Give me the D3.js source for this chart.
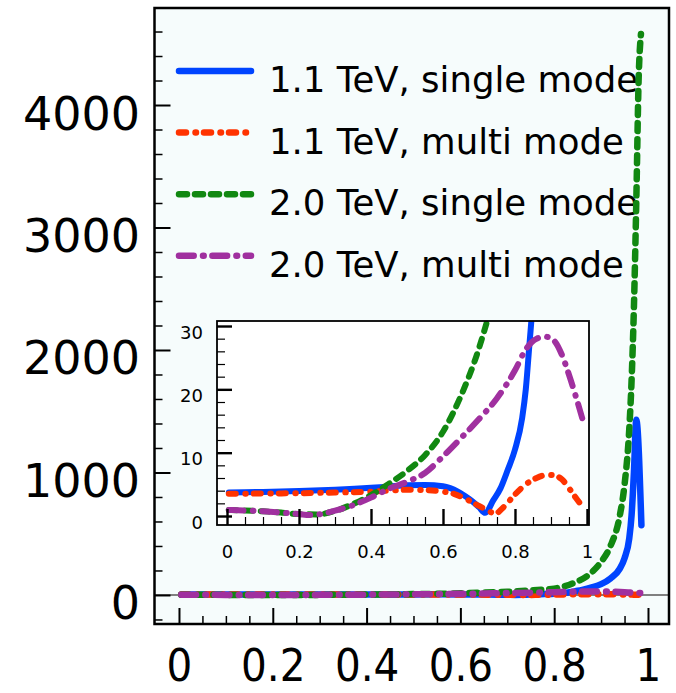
<!DOCTYPE html>
<html lang="en">
<head>
    <meta charset="utf-8">
    <script src="https://d3js.org/d3.v7.min.js"></script>
    <style>
        body { margin: 0; background: #ffffff; }
        svg { display: block; font-family: "DejaVu Sans", sans-serif; }
    </style>
</head>
<body>
    <svg id="chart" width="676" height="693"></svg>

    <script type="text/javascript" charset="utf-8">
        // values (x = position, y = curve value)
        const blueX = [0.005, 0.1, 0.2, 0.3, 0.4, 0.45, 0.5, 0.55, 0.6, 0.62, 0.64, 0.66, 0.68, 0.7, 0.717, 0.74, 0.76, 0.78, 0.8, 0.82, 0.83, 0.84, 0.85, 0.86, 0.88, 0.9, 0.92, 0.94, 0.95, 0.96, 0.965, 0.97, 0.975, 0.986];
        const blueY = [3.7, 3.8, 3.95, 4.15, 4.45, 4.65, 4.85, 4.9, 4.7, 4.4, 3.9, 3.2, 2.4, 1.4, 0.5, 2.5, 4.4, 7.3, 10.5, 15.5, 20, 27, 34, 42, 62, 88, 135, 215, 300, 460, 650, 1000, 1430, 570];

        const redX = [0.005, 0.1, 0.2, 0.3, 0.4, 0.45, 0.5, 0.55, 0.6, 0.63, 0.66, 0.69, 0.72, 0.745, 0.77, 0.8, 0.83, 0.86, 0.89, 0.91, 0.93, 0.95, 0.97, 0.988];
        const redY = [3.5, 3.55, 3.6, 3.7, 3.85, 4.0, 4.15, 4.1, 3.85, 3.5, 2.8, 1.9, 1.0, 0.4, 1.5, 3.4, 5.0, 6.0, 6.5, 6.4, 5.8, 4.4, 2.8, 1.5];

        const greenX = [0.005, 0.1, 0.15, 0.2, 0.25, 0.3, 0.35, 0.4, 0.45, 0.5, 0.55, 0.6, 0.65, 0.7, 0.75, 0.8, 0.84, 0.88, 0.9, 0.92, 0.94, 0.95, 0.96, 0.965, 0.97, 0.975, 0.98, 0.985];
        const greenY = [0.95, 0.75, 0.55, 0.3, 0.25, 0.8, 1.9, 3.3, 5.1, 7.1, 9.6, 13.3, 19, 26.5, 37, 52, 95, 185, 270, 400, 650, 900, 1350, 1750, 2350, 3200, 4200, 4580];

        const purpleX = [0.005, 0.1, 0.15, 0.2, 0.23, 0.26, 0.3, 0.35, 0.4, 0.45, 0.5, 0.55, 0.6, 0.65, 0.7, 0.75, 0.8, 0.83, 0.86, 0.885, 0.91, 0.93, 0.95, 0.97, 0.988];
        const purpleY = [0.95, 0.75, 0.55, 0.3, 0.15, 0.3, 0.85, 1.7, 2.9, 4.3, 5.4, 6.8, 9.4, 12.3, 15.3, 18.6, 23, 26.3, 28, 28.3, 27.6, 25.5, 22.3, 18.7, 15.2];

        const legendLabels = ["1.1 TeV, single mode", "1.1 TeV, multi mode", "2.0 TeV, single mode", "2.0 TeV, multi mode"];
        const mainXTicks = [0, 0.2, 0.4, 0.6, 0.8, 1];
        const mainYTicks = [0, 1000, 2000, 3000, 4000];
        const insetXTicks = [0, 0.2, 0.4, 0.6, 0.8, 1];
        const insetYTicks = [0, 10, 20, 30];

        const series = [
            { name: legendLabels[0], xs: blueX, ys: blueY, color: "#0044ff", dash: null },
            { name: legendLabels[1], xs: redX, ys: redY, color: "#ff3300", dash: "7,9.5,0.5,8" },
            { name: legendLabels[2], xs: greenX, ys: greenY, color: "#118811", dash: "8,8" },
            { name: legendLabels[3], xs: purpleX, ys: purpleY, color: "#a0309f", dash: "14.7,9.3,0.7,8.7" }
        ];
        series.forEach(s => s.points = s.xs.map((x, i) => ({ x: x, y: s.ys[i] })));

        const svg = d3.select("#chart");

        // main plot frame
        const frame = { left: 154.5, right: 669, top: 8, bottom: 624 };
        const x = d3.scaleLinear().domain([-0.0522, 1.0448]).range([frame.left, frame.right]);
        const y = d3.scaleLinear().domain([-237, 4792]).range([frame.bottom, frame.top]);

        const defs = svg.append("defs");
        defs.append("clipPath").attr("id", "mainClip").append("rect")
            .attr("x", frame.left).attr("y", frame.top)
            .attr("width", frame.right - frame.left).attr("height", frame.bottom - frame.top);

        svg.append("rect")
            .attr("x", frame.left).attr("y", frame.top)
            .attr("width", frame.right - frame.left).attr("height", frame.bottom - frame.top)
            .attr("fill", "#f6fcfc");

        // zero line
        svg.append("line")
            .attr("x1", frame.left).attr("x2", frame.right)
            .attr("y1", y(0)).attr("y2", y(0))
            .attr("stroke", "#808080").attr("stroke-width", 2);

        // legend
        const legend = svg.append("g");
        series.forEach((s, i) => {
            const ly = 71 + i * 61.6;
            legend.append("line")
                .attr("x1", 179).attr("x2", 251).attr("y1", ly).attr("y2", ly)
                .attr("stroke", s.color).attr("stroke-width", 6.5)
                .attr("stroke-linecap", "round")
                .attr("stroke-dasharray", s.dash);
            legend.append("text")
                .attr("x", 269).attr("y", ly + 21)
                .attr("font-size", 35.5)
                .attr("fill", "#000")
                .text(s.name);
        });

        const mainLine = d3.line().curve(d3.curveMonotoneX).x(d => x(d.x)).y(d => y(d.y));
        svg.append("g").attr("clip-path", "url(#mainClip)")
            .selectAll("path").data(series).enter().append("path")
            .attr("d", d => mainLine(d.points))
            .attr("fill", "none")
            .attr("stroke", d => d.color)
            .attr("stroke-width", 6.5)
            .attr("stroke-linecap", "round")
            .attr("stroke-linejoin", "round")
            .attr("stroke-dasharray", d => d.dash);

        // main axes, ticks drawn inward
        const yMinor = d3.range(-200, 4601, 200).filter(v => v % 1000 !== 0);
        const xMinor = d3.range(0, 21).map(i => i * 0.05).filter((v, i) => i % 4 !== 0);

        svg.append("g").attr("transform", `translate(${frame.left},0)`)
            .call(d3.axisLeft(y).tickValues(yMinor).tickSizeInner(-8).tickSizeOuter(0).tickFormat(""))
            .call(g => g.select(".domain").remove())
            .selectAll("line").attr("stroke-width", 1.5);
        const yAxis = svg.append("g").attr("transform", `translate(${frame.left},0)`)
            .call(d3.axisLeft(y).tickValues(mainYTicks).tickSizeInner(-16).tickSizeOuter(0).tickPadding(14.5).tickFormat(d => String(d)))
            .call(g => g.select(".domain").remove());
        yAxis.selectAll("line").attr("stroke-width", 2);
        yAxis.selectAll("text")
            .attr("dy", null).attr("y", 24)
            .attr("font-size", 46).attr("font-family", "DejaVu Sans").attr("fill", "#000");

        svg.append("g").attr("transform", `translate(0,${frame.bottom})`)
            .call(d3.axisBottom(x).tickValues(xMinor).tickSizeInner(-8).tickSizeOuter(0).tickFormat(""))
            .call(g => g.select(".domain").remove())
            .selectAll("line").attr("stroke-width", 1.5);
        const xAxis = svg.append("g").attr("transform", `translate(0,${frame.bottom})`)
            .call(d3.axisBottom(x).tickValues(mainXTicks).tickSizeInner(-16).tickSizeOuter(0).tickFormat(d => String(d)))
            .call(g => g.select(".domain").remove());
        xAxis.selectAll("line").attr("stroke-width", 2);
        xAxis.selectAll("text")
            .attr("dy", null).attr("y", 57)
            .attr("font-size", 45).attr("font-family", "DejaVu Sans Condensed, DejaVu Sans").attr("fill", "#000");

        svg.append("rect")
            .attr("x", frame.left).attr("y", frame.top)
            .attr("width", frame.right - frame.left).attr("height", frame.bottom - frame.top)
            .attr("fill", "none").attr("stroke", "#000").attr("stroke-width", 2.5);

        // inset
        const inset = { left: 217, right: 589, top: 321, bottom: 525 };
        const xi = d3.scaleLinear().domain([-0.0278, 1.0056]).range([inset.left, inset.right]);
        const yi = d3.scaleLinear().domain([-1.42, 30.79]).range([inset.bottom, inset.top]);

        defs.append("clipPath").attr("id", "insetClip").append("rect")
            .attr("x", inset.left).attr("y", inset.top)
            .attr("width", inset.right - inset.left).attr("height", inset.bottom - inset.top);

        svg.append("rect")
            .attr("x", inset.left).attr("y", inset.top)
            .attr("width", inset.right - inset.left).attr("height", inset.bottom - inset.top)
            .attr("fill", "#ffffff");

        const insetLine = d3.line().curve(d3.curveMonotoneX).x(d => xi(d.x)).y(d => yi(d.y));
        svg.append("g").attr("clip-path", "url(#insetClip)")
            .selectAll("path").data(series).enter().append("path")
            .attr("d", d => insetLine(d.points))
            .attr("fill", "none")
            .attr("stroke", d => d.color)
            .attr("stroke-width", 6)
            .attr("stroke-linecap", "round")
            .attr("stroke-linejoin", "round")
            .attr("stroke-dasharray", d => d.dash);

        const yiMinor = d3.range(2, 30, 2).filter(v => v % 10 !== 0);
        svg.append("g").attr("transform", `translate(${inset.left},0)`)
            .call(d3.axisLeft(yi).tickValues(yiMinor).tickSizeInner(-8).tickSizeOuter(0).tickFormat(""))
            .call(g => g.select(".domain").remove())
            .selectAll("line").attr("stroke-width", 1.2);
        const yiAxis = svg.append("g").attr("transform", `translate(${inset.left},0)`)
            .call(d3.axisLeft(yi).tickValues(insetYTicks).tickSizeInner(-15).tickSizeOuter(0).tickPadding(14).tickFormat(d => String(d)))
            .call(g => g.select(".domain").remove());
        yiAxis.selectAll("line").attr("stroke-width", 2.4);
        yiAxis.selectAll("text")
            .attr("dy", null).attr("y", 12)
            .attr("font-size", 18).attr("font-family", "DejaVu Sans").attr("fill", "#000");

        svg.append("g").attr("transform", `translate(0,${inset.bottom})`)
            .call(d3.axisBottom(xi).tickValues(xMinor).tickSizeInner(-8).tickSizeOuter(0).tickFormat(""))
            .call(g => g.select(".domain").remove())
            .selectAll("line").attr("stroke-width", 1.2);
        const xiAxis = svg.append("g").attr("transform", `translate(0,${inset.bottom})`)
            .call(d3.axisBottom(xi).tickValues(insetXTicks).tickSizeInner(-16).tickSizeOuter(0).tickFormat(d => String(d)))
            .call(g => g.select(".domain").remove());
        xiAxis.selectAll("line").attr("stroke-width", 2.4);
        xiAxis.selectAll("text")
            .attr("dy", null).attr("y", 33)
            .attr("font-size", 18).attr("font-family", "DejaVu Sans").attr("fill", "#000");

        svg.append("rect")
            .attr("x", inset.left).attr("y", inset.top)
            .attr("width", inset.right - inset.left).attr("height", inset.bottom - inset.top)
            .attr("fill", "none").attr("stroke", "#000").attr("stroke-width", 1.8);
    </script>
</body>
</html>
